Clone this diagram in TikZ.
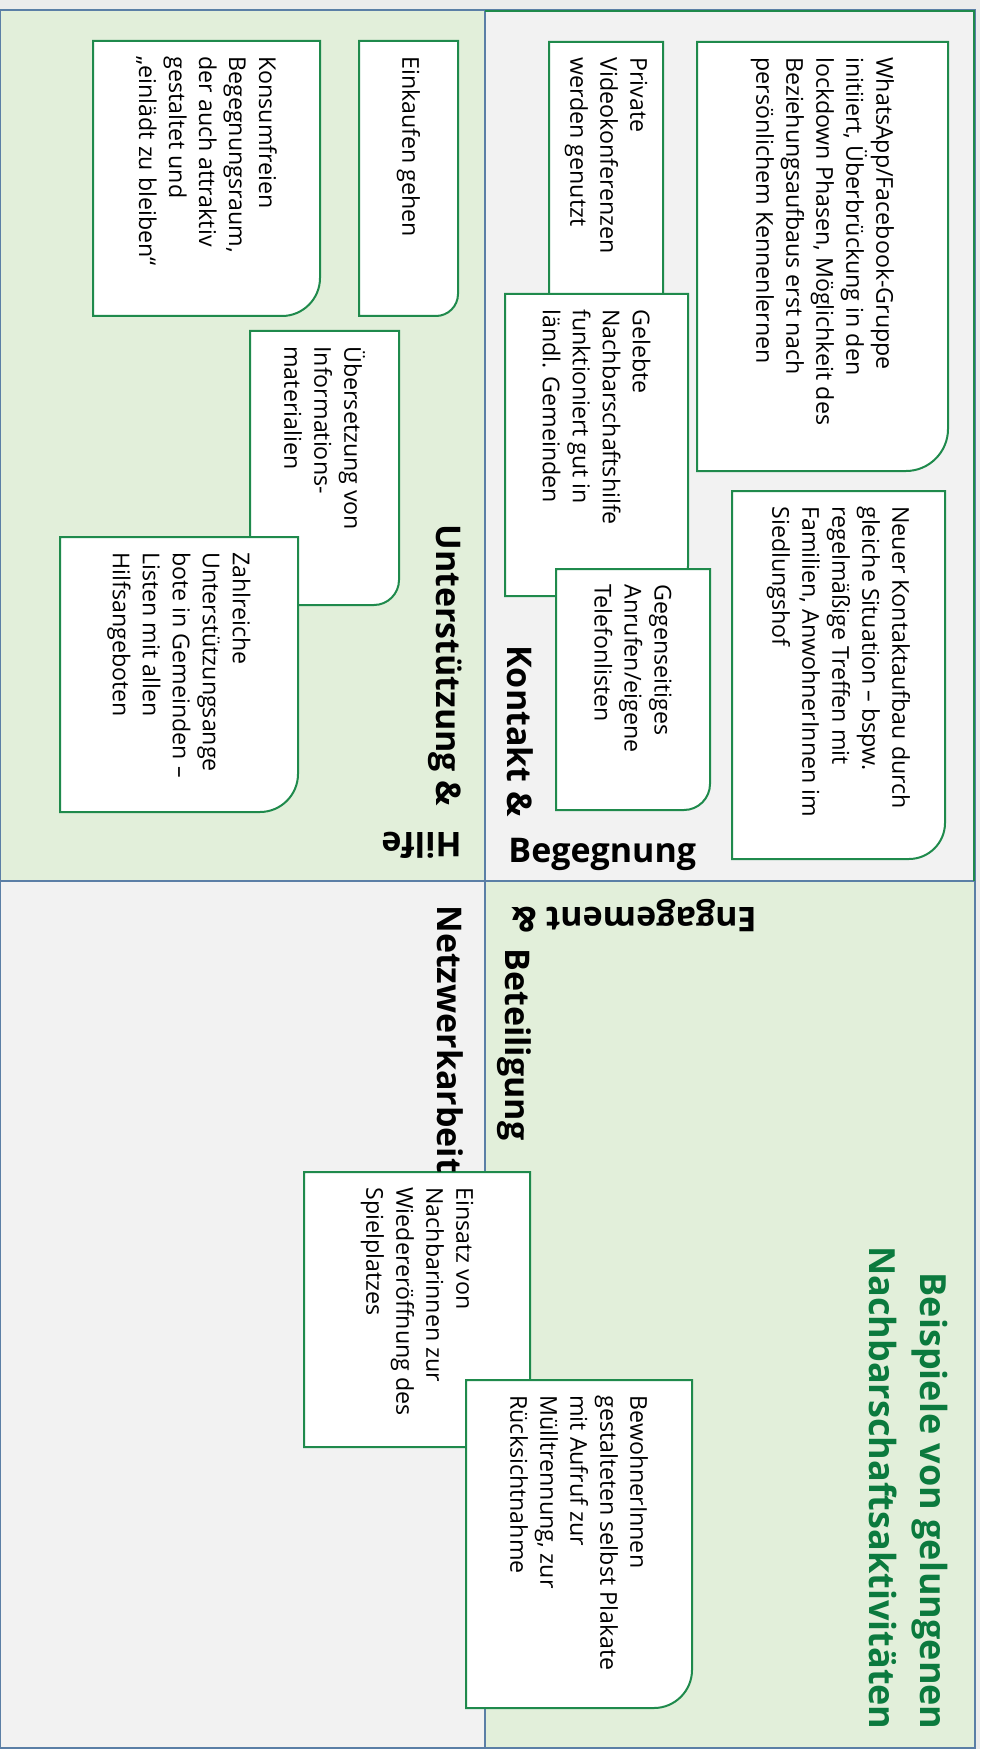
\documentclass[tikz,border=0pt]{standalone}
\usepackage{fontspec}
\setmainfont{Open Sans}

\definecolor{rand}{HTML}{ECECEC}
\definecolor{bggruen}{HTML}{E2EFDA}
\definecolor{bggrau}{HTML}{F2F2F2}
\definecolor{linie}{HTML}{5B7FA6}
\definecolor{kastengruen}{HTML}{1F8A4C}
\definecolor{titelgruen}{HTML}{0B7A3E}

\tikzset{
  kasten/.style={draw=kastengruen, fill=white, line width=1pt},
  notiz/.style={rotate=-90, anchor=west, align=left, inner sep=0pt,
    font=\fontsize{11.6}{15}\selectfont},
  kopf/.style={inner sep=0pt, anchor=base west,
    font=\bfseries\fontsize{17}{20}\selectfont},
  titel/.style={rotate=-90, inner sep=0pt, anchor=base east, text=titelgruen,
    font=\bfseries\fontsize{18}{24}\selectfont}
}

% Name, x1, y1, x2, y2, Radius (Ecke unten rechts), Text
\newcommand\notizkasten[7]{%
  \draw[kasten] (#2,#3) -- (#4,#3) -- (#4,#5-#6)
    .. controls (#4,#5-0.45*#6) and (#4-0.45*#6,#5) .. (#4-#6,#5)
    -- (#2,#5) -- cycle;
  \node[notiz] (#1) at ({(#2+#4)/2},{#3+15}) {#7};
}

\begin{document}
\begin{tikzpicture}[x=0.5pt,y=-0.5pt]
\useasboundingbox (0,0) rectangle (980,1749);
\fill[rand] (0,0) rectangle (980,1749);

%==================== Quadranten ====================
\fill[bggruen] (0,10) rectangle (485,881);
\fill[bggrau] (485,10) rectangle (975,881);
\fill[bggrau] (0,881) rectangle (485,1748);
\fill[bggruen] (485,881) rectangle (975,1748);
\draw[linie, line width=0.8pt] (0,10) rectangle (975,1748);
\draw[linie, line width=0.8pt] (485,10) -- (485,1748);
\draw[linie, line width=0.8pt] (0,881) -- (975,881);
\draw[kastengruen, line width=0.8pt] (485,11) -- (974,11) -- (974,881);

%==================== Kästen ====================
\notizkasten{konsum}{93}{41}{320}{316}{38}{Konsumfreien\\Begegnungsraum,\\der auch attraktiv\\gestaltet und\\„einlädt zu bleiben“}
\notizkasten{einkauf}{359}{41}{458}{316}{22}{Einkaufen gehen}
\notizkasten{video}{549}{42}{663}{320}{20}{Private\\Videokonferenzen\\werden genutzt}
\notizkasten{whatsapp}{697}{42}{948}{471}{42}{WhatsApp/Facebook-Gruppe\\initiiert, Überbrückung in den\\lockdown Phasen, Möglichkeit des\\Beziehungsaufbaus erst nach\\persönlichem Kennenlernen}
\notizkasten{uebersetz}{250}{331}{399}{605}{25}{Übersetzung von\\Informations-\\materialien}
\notizkasten{gelebt}{505}{294}{688}{596}{30}{Gelebte\\Nachbarschaftshilfe\\funktioniert gut in\\ländl. Gemeinden}
\notizkasten{neuer}{732}{491}{945}{859}{36}{Neuer Kontaktaufbau durch\\gleiche Situation – bspw.\\regelmäßige Treffen mit\\Familien, AnwohnerInnen im\\Siedlungshof}
\notizkasten{zahlreich}{60}{537}{298}{812}{38}{Zahlreiche\\Unterstützungsange\\bote in Gemeinden –\\Listen mit allen\\Hilfsangeboten}
\notizkasten{anrufen}{556}{569}{710}{810}{26}{Gegenseitiges\\Anrufen/eigene\\Telefonlisten}
\notizkasten{einsatz}{304}{1172}{530}{1447}{38}{Einsatz von\\Nachbarinnen zur\\Wiedereröffnung des\\Spielplatzes}
\notizkasten{plakate}{466}{1380}{692}{1708}{38}{BewohnerInnen\\gestalteten selbst Plakate\\mit Aufruf zur\\Mülltrennung, zur\\Rücksichtnahme}

%==================== Überschriften ====================
\node[kopf, rotate=-90] (unterstuetzung) at (436,524) {Unterstützung \&};
\node[kopf, rotate=180] (hilfe) at (462,832) {Hilfe};
\node[kopf, rotate=-90] (kontakt) at (507,645) {Kontakt \&};
\node[kopf] (begegnung) at (508,862) {Begegnung};
\node[kopf, rotate=180] (engagement) at (757,907) {Engagement \&};
\node[kopf, rotate=-90] (beteiligung) at (505,948) {Beteiligung};
\node[kopf, rotate=-90] (netzwerk) at (437,905) {Netzwerkarbeit};

% Titel
\node[titel] (titel1) at (920,1730) {Beispiele von gelungenen};
\node[titel] (titel2) at (869,1730) {Nachbarschaftsaktivitäten};

\end{tikzpicture}
\end{document}
